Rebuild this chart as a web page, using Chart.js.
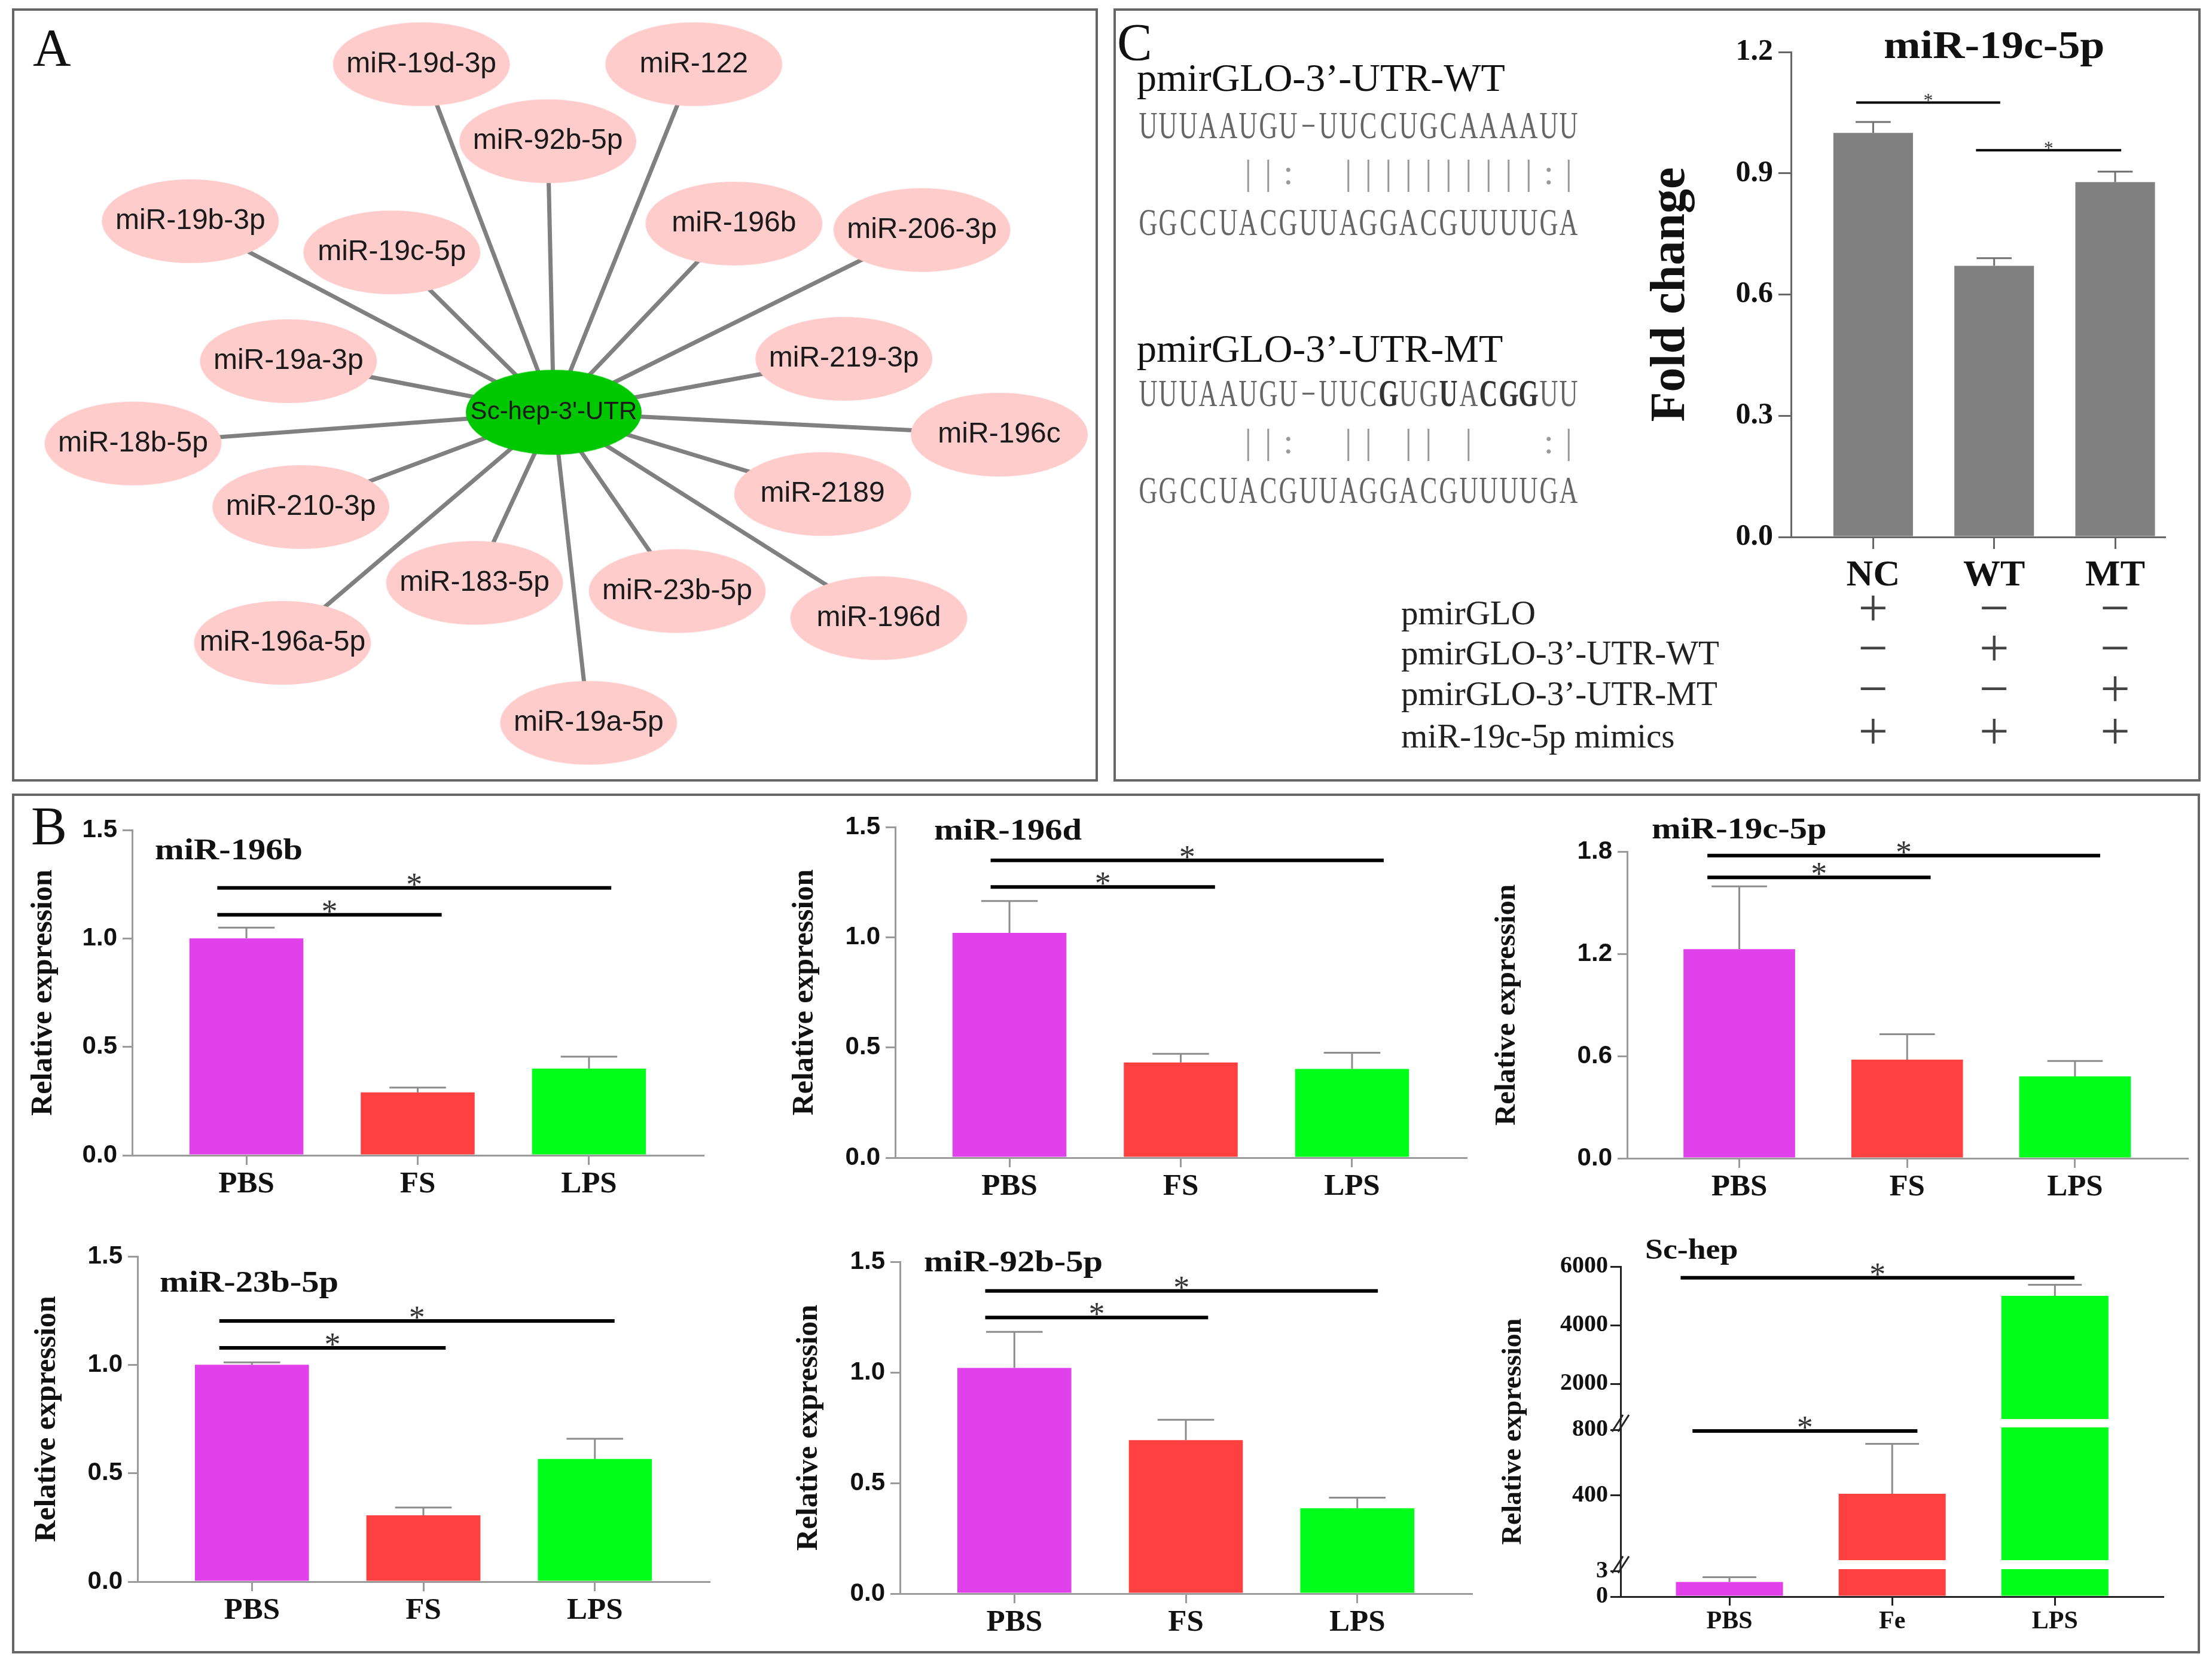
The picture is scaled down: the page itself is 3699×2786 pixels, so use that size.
<!DOCTYPE html>
<html>
<head>
<meta charset="utf-8">
<title>Sc-hep 3'-UTR and its miRNAs</title>
<script src="https://cdn.jsdelivr.net/npm/chart.js@4.4.1/dist/chart.umd.min.js"></script>
<style>
  html, body { margin: 0; padding: 0; background: #fff; }
  body { position: relative; width: 3699px; height: 2786px; overflow: hidden; }
  .panel { position: absolute; box-sizing: border-box; border: 4px solid #666; }
  .t { position: absolute; white-space: nowrap; line-height: 1; font-family: 'Liberation Serif', 'Times New Roman', serif; color: #111; }
  .chart { position: absolute; }
</style>
</head>
<body>
<div class="panel" style="left:20px;top:14px;width:1816px;height:1293px"></div>
<div class="panel" style="left:1862px;top:14px;width:1818px;height:1293px"></div>
<div class="panel" style="left:20px;top:1327px;width:3659px;height:1438px"></div>
<script>
var SERIF = "'Liberation Serif', 'Times New Roman', serif";
var SANS = "'Liberation Sans', Arial, sans-serif";

// ---- A: miRNAs predicted to bind the Sc-hep 3'-UTR ----
var hubName = "Sc-hep-3'-UTR";
var hubXY = [926, 690];
var mirNames = ['miR-19d-3p', 'miR-122', 'miR-92b-5p', 'miR-19b-3p', 'miR-19c-5p', 'miR-196b',
  'miR-206-3p', 'miR-19a-3p', 'miR-219-3p', 'miR-18b-5p', 'miR-196c', 'miR-210-3p',
  'miR-2189', 'miR-183-5p', 'miR-23b-5p', 'miR-196d', 'miR-196a-5p', 'miR-19a-5p'];
var mirX = [702, 1163, 916, 311, 652, 1231, 1549, 477, 1417, 214, 1680, 498, 1381, 792, 1135, 1476, 467, 985];
var mirY = [98, 98, 229, 365, 418, 369, 380, 603, 599, 743, 728, 851, 829, 980, 994, 1040, 1082, 1218];

// ---- B: relative expression ----
var groups = ['PBS', 'FS', 'LPS'];
var groupsHep = ['PBS', 'Fe', 'LPS'];
var groupColors = ['#E041EB', '#FF4040', '#00FF1A'];

var mir196b = [1.00, 0.29, 0.40];
var mir196bSem = [0.05, 0.022, 0.055];
var mir196d = [1.02, 0.432, 0.403];
var mir196dSem = [0.144, 0.039, 0.073];
var mir19c = [1.227, 0.579, 0.481];
var mir19cSem = [0.369, 0.149, 0.09];
var mir23b = [1.00, 0.306, 0.566];
var mir23bSem = [0.011, 0.036, 0.093];
var mir92b = [1.02, 0.694, 0.386];
var mir92bSem = [0.163, 0.092, 0.048];
var scHep = [1.74, 409, 5000];
var scHepSem = [0.57, 305, 380];

var ticksRel = [0, 0.5, 1.0, 1.5];
var ticks19c = [0, 0.6, 1.2, 1.8];
var ticksHepTop = [2000, 4000, 6000];
var ticksHepMid = [400, 800];
var ticksHepLow = [0, 3];

// significance bars: [from group, to group, height]
var sig196b = [[-0.17, 1.14, 1.109], [-0.17, 2.13, 1.233]];
var sig196d = [[-0.11, 1.20, 1.228], [-0.11, 2.185, 1.349]];
var sig19c = [[-0.19, 1.14, 1.648], [-0.19, 2.15, 1.776]];
var sig23b = [[-0.19, 1.13, 1.078], [-0.19, 2.115, 1.202]];
var sig92b = [[-0.17, 1.13, 1.248], [-0.17, 2.12, 1.368]];
var sigHep = [[-0.227, 1.155, 793], [-0.3, 2.12, 5617]];

// ---- C: dual luciferase ----
var lucGroups = ['NC', 'WT', 'MT'];
var foldChange = [1.0, 0.671, 0.878];
var foldChangeSem = [0.027, 0.019, 0.026];
var ticksFold = [0, 0.3, 0.6, 0.9, 1.2];
var sigFold = [[-0.14, 1.05, 1.075], [0.85, 2.05, 0.957]];
var lucRows = ['pmirGLO', 'pmirGLO-3\u2019-UTR-WT', 'pmirGLO-3\u2019-UTR-MT', 'miR-19c-5p mimics'];
var lucMarks = [['+', '\u2212', '\u2212'], ['\u2212', '+', '\u2212'], ['\u2212', '\u2212', '+'], ['+', '+', '+']];
var seqWt = 'UUUAAUGU\u2212UUCCUGCAAAAUU';
var pairWt = '     ||:  ||||||||||:|';
var seqMir = 'GGCCUACGUUAGGACGUUUUGA';
var seqMt = 'UUUAAUGU\u2212UUCGUGUACGGUU';
var pairMt = '     ||:  || || |   :|';
var mutatedCols = [12, 15, 17, 18, 19];

Chart.defaults.font.family = SANS;
Chart.defaults.color = '#111';

function mount(left, top, width, height) {
  var div = document.createElement('div');
  div.className = 'chart';
  div.style.left = left + 'px';
  div.style.top = top + 'px';
  div.style.width = width + 'px';
  div.style.height = height + 'px';
  var canvas = document.createElement('canvas');
  div.appendChild(canvas);
  document.body.appendChild(div);
  return canvas;
}

function addText(str, x, base, size, color) {
  var d = document.createElement('div');
  d.className = 't';
  d.textContent = str;
  d.style.left = x + 'px';
  d.style.top = (base - 0.8375 * size) + 'px';
  d.style.fontSize = size + 'px';
  if (color) d.style.color = color;
  document.body.appendChild(d);
  return d;
}

function seqRow(str, base, o) {
  for (var i = 0; i < str.length; i++) {
    var ch = str.charAt(i);
    if (ch === ' ') continue;
    var d = addText(ch, 1903 + 33.5 * (i + 0.5), base, o.size, o.color);
    d.style.transform = 'translateX(-50%) scaleX(' + o.sx + ')';
    if (o.bold && o.bold.indexOf(i) >= 0) {
      d.style.fontWeight = 'bold';
      d.style.color = '#333';
    }
  }
}

function stretchText(ctx, str, x, y, sx) {
  ctx.save();
  ctx.translate(x, y);
  ctx.scale(sx, 1);
  ctx.fillText(str, 0, 0);
  ctx.restore();
}

function ellipseImage(w, h, fill) {
  var c = document.createElement('canvas');
  c.width = w;
  c.height = h;
  var g = c.getContext('2d');
  g.fillStyle = fill;
  g.beginPath();
  g.ellipse(w / 2, h / 2, w / 2 - 1, h / 2 - 1, 0, 0, Math.PI * 2);
  g.fill();
  return c;
}

// error bars, significance bars, stars and the in-plot title
function decor(o) {
  return {
    id: 'decor',
    afterDatasetsDraw: function (chart) {
      var ctx = chart.ctx, xs = chart.scales.x, ys = chart.scales.y, a = chart.chartArea;
      var half = (xs.getPixelForValue(o.capWidth) - xs.getPixelForValue(0)) / 2;

      ctx.save();
      ctx.strokeStyle = o.errColor;
      ctx.lineWidth = o.errWidth;
      o.vals.forEach(function (v, i) {
        var top = v + o.sem[i];
        if (top <= ys.min || v >= ys.max) return;
        var px = xs.getPixelForValue(i);
        var y0 = ys.getPixelForValue(Math.max(v, ys.min));
        var y1 = ys.getPixelForValue(Math.min(top, ys.max));
        ctx.beginPath();
        ctx.moveTo(px, y0);
        ctx.lineTo(px, y1);
        if (top <= ys.max) {
          ctx.moveTo(px - half, y1);
          ctx.lineTo(px + half, y1);
        }
        ctx.stroke();
      });
      ctx.restore();

      ctx.save();
      ctx.strokeStyle = '#000';
      ctx.lineWidth = o.sigWidth;
      ctx.fillStyle = '#333';
      ctx.textAlign = 'center';
      ctx.textBaseline = 'alphabetic';
      ctx.font = o.starSize + 'px ' + SERIF;
      (o.sig || []).forEach(function (s) {
        if (s[2] < ys.min || s[2] > ys.max) return;
        var x1 = xs.getPixelForValue(s[0]), x2 = xs.getPixelForValue(s[1]), y = ys.getPixelForValue(s[2]);
        ctx.beginPath();
        ctx.moveTo(x1, y);
        ctx.lineTo(x2, y);
        ctx.stroke();
        ctx.fillText('*', (x1 + x2) / 2, y + o.starDrop);
      });
      if (o.title) {
        ctx.fillStyle = '#111';
        ctx.font = 'bold ' + o.titleSize + 'px ' + SERIF;
        ctx.textAlign = o.titleAlign;
        var tx = o.titleAlign === 'center' ? xs.getPixelForValue(o.titleAt) : a.left + o.titleDx;
        stretchText(ctx, o.title, tx, a.top + o.titleDy, o.titleStretch);
      }
      ctx.restore();
      if (o.extra) o.extra(chart, o);
    }
  };
}

function barChart(spec) {
  var o = Object.assign({
    padL: 0, padT: 40, padR: 20, padB: 0, xh: 100, showX: true,
    xMin: -0.667, xMax: 2.667, barPct: 0.665, decimals: 1,
    axisColor: '#9a9a9a', axisWidth: 3, tickLenX: 16, tickLenY: 16,
    xFont: 51, xPad: 2, yFont: { family: SANS, size: 42, weight: 'bold' }, yPad: 9,
    yTitle: 'Relative expression', yTitleSize: 50,
    errColor: '#8c8c8c', errWidth: 3, capWidth: 0.33,
    sigWidth: 6, starSize: 54, starDrop: 12,
    title: '', titleSize: 50, titleAlign: 'left', titleDx: 0, titleDy: 0, titleStretch: 1.17,
    colors: groupColors, extra: null
  }, spec);
  var left = o.area[0] - o.yw - o.padL;
  var top = o.area[1] - o.padT;
  var width = o.area[2] + o.padR - left;
  var height = o.area[3] + o.xh + o.padB - top;
  o.origin = [left, top];
  var canvas = mount(left, top, width, height);

  return new Chart(canvas, {
    type: 'bar',
    data: {
      datasets: [{
        data: o.vals.map(function (v, i) { return { x: i, y: v }; }),
        backgroundColor: o.colors,
        borderWidth: 0,
        categoryPercentage: 1,
        barPercentage: o.barPct,
        clip: 0
      }]
    },
    options: {
      responsive: true,
      maintainAspectRatio: false,
      animation: false,
      events: [],
      layout: { padding: { left: o.padL, top: o.padT, right: o.padR, bottom: o.padB } },
      plugins: { legend: { display: false }, tooltip: { enabled: false } },
      scales: {
        x: {
          type: 'linear', min: o.xMin, max: o.xMax, offset: false, display: o.showX,
          afterBuildTicks: function (s) { s.ticks = o.cats.map(function (c, i) { return { value: i }; }); },
          afterFit: function (s) { s.height = o.xh; },
          ticks: {
            callback: function (v) { return o.cats[v]; },
            font: { family: SERIF, size: o.xFont, weight: 'bold' },
            color: '#111', padding: o.xPad, maxRotation: 0, autoSkip: false
          },
          grid: { drawOnChartArea: false, drawTicks: true, tickLength: o.tickLenX, color: o.axisColor, lineWidth: o.axisWidth, offset: false },
          border: { display: true, color: o.axisColor, width: o.axisWidth }
        },
        y: {
          type: 'linear', min: o.yMin, max: o.yMax,
          afterBuildTicks: function (s) { s.ticks = o.yTicks.map(function (v) { return { value: v }; }); },
          afterFit: function (s) { s.width = o.yw; },
          ticks: {
            callback: function (v) { return Number(v).toFixed(o.decimals); },
            font: o.yFont, color: '#111', padding: o.yPad, autoSkip: false
          },
          grid: { drawOnChartArea: false, drawTicks: true, tickLength: o.tickLenY, color: o.axisColor, lineWidth: o.axisWidth },
          border: { display: true, color: o.axisColor, width: o.axisWidth },
          title: {
            display: !!o.yTitle, text: o.yTitle, color: '#111', padding: 0,
            font: { family: SERIF, size: o.yTitleSize, weight: 'bold', lineHeight: 1 }
          }
        }
      }
    },
    plugins: [decor(o)]
  });
}

function drawLucTable(chart, o) {
  var ctx = chart.ctx, xs = chart.scales.x;
  var rowBase = [1044, 1111, 1179, 1250];
  ctx.save();
  ctx.textBaseline = 'alphabetic';
  lucRows.forEach(function (name, r) {
    var y = rowBase[r] - o.origin[1];
    ctx.font = '57px ' + SERIF;
    ctx.textAlign = 'left';
    ctx.fillStyle = '#222';
    ctx.fillText(name, 2343 - o.origin[0], y);
    ctx.font = '88px ' + SERIF;
    ctx.textAlign = 'center';
    ctx.fillStyle = '#444';
    lucMarks[r].forEach(function (m, i) {
      ctx.fillText(m, xs.getPixelForValue(i), y - 20 + 0.25 * 88);
    });
  });
  ctx.restore();
}

function drawHepBreaks(chart, o) {
  var ctx = chart.ctx, ax = chart.chartArea.left;
  var gaps = [[2373, 2387], [2609, 2624]];
  ctx.save();
  ctx.strokeStyle = '#222';
  ctx.lineWidth = 3;
  gaps.forEach(function (g) {
    var y0 = g[0] - o.origin[1], y1 = g[1] - o.origin[1], ym = (y0 + y1) / 2;
    ctx.beginPath();
    ctx.moveTo(ax, y0 - 1);
    ctx.lineTo(ax, y1 + 1);
    ctx.stroke();
    [-5, 5].forEach(function (d) {
      ctx.beginPath();
      ctx.moveTo(ax + d - 9, ym + 14);
      ctx.lineTo(ax + d + 9, ym - 14);
      ctx.stroke();
    });
  });
  ctx.fillStyle = '#111';
  ctx.font = 'bold 46px ' + SERIF;
  ctx.textAlign = 'center';
  ctx.textBaseline = 'middle';
  ctx.translate(2531 - o.origin[0], 2394 - o.origin[1]);
  ctx.rotate(-Math.PI / 2);
  ctx.fillText('Relative expression', 0, 0);
  ctx.restore();
}

function drawNetwork() {
  var canvas = mount(0, 0, 1850, 1320);
  var pink = ellipseImage(298, 142, '#FFCCCC');
  var green = ellipseImage(296, 144, '#00C800');
  var nodes = mirNames.map(function (n, i) { return { x: mirX[i], y: mirY[i] }; });
  var edges = nodes.map(function (p) {
    return {
      type: 'line', data: [{ x: hubXY[0], y: hubXY[1] }, { x: p.x, y: p.y }],
      borderColor: '#808080', borderWidth: 7, pointRadius: 0, order: 2, fill: false
    };
  });
  new Chart(canvas, {
    type: 'scatter',
    data: {
      datasets: [
        { data: nodes, pointStyle: pink, pointRadius: 10, pointHoverRadius: 10, order: 1 },
        { data: [{ x: hubXY[0], y: hubXY[1] }], pointStyle: green, pointRadius: 10, pointHoverRadius: 10, order: 0 }
      ].concat(edges)
    },
    options: {
      responsive: true, maintainAspectRatio: false, animation: false, events: [],
      layout: { padding: 0 },
      plugins: { legend: { display: false }, tooltip: { enabled: false } },
      scales: {
        x: { type: 'linear', min: 0, max: 1850, display: false },
        y: { type: 'linear', min: 0, max: 1320, reverse: true, display: false }
      }
    },
    plugins: [{
      id: 'nodeLabels',
      afterDatasetsDraw: function (chart) {
        var ctx = chart.ctx, xs = chart.scales.x, ys = chart.scales.y;
        ctx.save();
        ctx.textAlign = 'center';
        ctx.textBaseline = 'middle';
        ctx.fillStyle = '#1a1a1a';
        ctx.font = '48px ' + SANS;
        mirNames.forEach(function (n, i) {
          ctx.fillText(n, xs.getPixelForValue(mirX[i]), ys.getPixelForValue(mirY[i]));
        });
        ctx.font = '42px ' + SANS;
        ctx.fillText(hubName, xs.getPixelForValue(hubXY[0]), ys.getPixelForValue(hubXY[1]));
        ctx.restore();
      }
    }]
  });
}

// panel letters and sequence alignment
addText('A', 55, 110, 88);
addText('B', 52, 1412, 90);
addText('C', 1868, 101, 88);
addText('pmirGLO-3\u2019-UTR-WT', 1901, 152, 66);
addText('pmirGLO-3\u2019-UTR-MT', 1901, 605, 66);
seqRow(seqWt, 231.5, { size: 63, color: '#666', sx: 0.68 });
seqRow(pairWt, 308, { size: 60, color: '#999', sx: 1 });
seqRow(seqMir, 394, { size: 63, color: '#666', sx: 0.68 });
seqRow(seqMt, 680, { size: 63, color: '#666', sx: 0.68, bold: mutatedCols });
seqRow(pairMt, 758, { size: 60, color: '#999', sx: 1 });
seqRow(seqMir, 842, { size: 63, color: '#666', sx: 0.68 });

drawNetwork();

barChart({ area: [221, 1388, 1176, 1932], yw: 173, yMin: 0, yMax: 1.5, yTicks: ticksRel, cats: groups,
  vals: mir196b, sem: mir196bSem, sig: sig196b, title: 'miR-196b', titleDx: 38, titleDy: 49 });
barChart({ area: [1497, 1383, 2452, 1936], yw: 176, yMin: 0, yMax: 1.5, yTicks: ticksRel, cats: groups,
  vals: mir196d, sem: mir196dSem, sig: sig196d, title: 'miR-196d', titleDx: 65, titleDy: 21 });
barChart({ area: [2721, 1424, 3658, 1937], yw: 225, padT: 70, padR: 10, xMin: -0.668, xMax: 2.67,
  yMin: 0, yMax: 1.8, yTicks: ticks19c, cats: groups, yTitleSize: 49,
  vals: mir19c, sem: mir19cSem, sig: sig19c, title: 'miR-19c-5p', titleDx: 41, titleDy: -22.5 });
barChart({ area: [230, 2101, 1186, 2645], yw: 176, yMin: 0, yMax: 1.5, yTicks: ticksRel, cats: groups,
  vals: mir23b, sem: mir23bSem, sig: sig23b, title: 'miR-23b-5p', titleDx: 37, titleDy: 59 });
barChart({ area: [1505, 2110, 2461, 2665], yw: 177, yMin: 0, yMax: 1.5, yTicks: ticksRel, cats: groups,
  vals: mir92b, sem: mir92bSem, sig: sig92b, title: 'miR-92b-5p', titleDx: 40, titleDy: 16 });

// Sc-hep: broken y axis drawn as three stacked segments sharing one box
var hepCommon = {
  yw: 270, padL: 0, padR: 33, xMin: -0.669, xMax: 2.664, barPct: 0.658, cats: groupsHep,
  vals: scHep, sem: scHepSem, sig: sigHep, axisColor: '#222', tickLenX: 15, tickLenY: 17,
  xFont: 42, xPad: 2, yFont: { family: SERIF, size: 40, weight: 'bold' }, yPad: 4, yTitle: '', decimals: 0
};
barChart(Object.assign({}, hepCommon, { area: [2710, 2118, 3617, 2373], padT: 78, xh: 0, padB: 402, showX: false,
  yMin: 800, yMax: 6000, yTicks: ticksHepTop, title: 'Sc-hep', titleSize: 48, titleDx: 41, titleDy: -13, titleStretch: 1.12 }));
barChart(Object.assign({}, hepCommon, { area: [2710, 2387, 3617, 2609], padT: 347, xh: 0, padB: 166, showX: false,
  yMin: 3, yMax: 815, yTicks: ticksHepMid }));
barChart(Object.assign({}, hepCommon, { area: [2710, 2624, 3617, 2670], padT: 584, xh: 105, padB: 0, showX: true,
  yMin: 0, yMax: 3.27, yTicks: ticksHepLow, extra: drawHepBreaks }));

// C: luciferase reporter fold change
barChart({
  area: [2995, 87, 3620, 898], padL: 424, yw: 241, padT: 67, padR: 30, xh: 100, padB: 292,
  xMin: -0.679, xMax: 2.41, barPct: 0.658, yMin: 0, yMax: 1.2, yTicks: ticksFold, cats: lucGroups,
  vals: foldChange, sem: foldChangeSem, sig: sigFold, colors: ['#808080', '#808080', '#808080'],
  axisColor: '#666', tickLenX: 20, tickLenY: 21, xFont: 62, xPad: 8,
  yFont: { family: SERIF, size: 50, weight: 'bold' }, yPad: 9,
  yTitle: 'Fold change', yTitleSize: 82, errColor: '#707070', capWidth: 0.29, sigWidth: 4, starSize: 32, starDrop: 7,
  title: 'miR-19c-5p', titleSize: 66, titleAlign: 'center', titleAt: 1, titleDy: 10, titleStretch: 1.12,
  extra: drawLucTable
});
</script>
</body>
</html>
